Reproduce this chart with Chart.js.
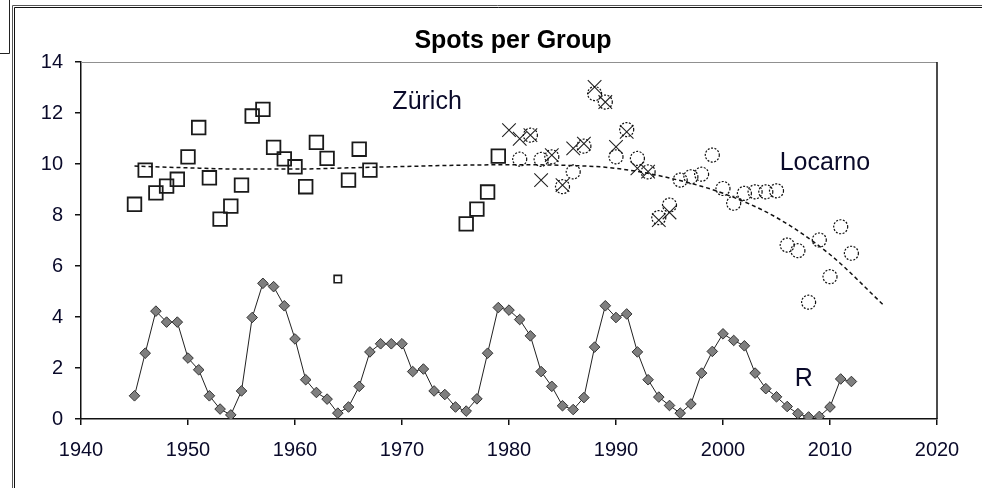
<!DOCTYPE html>
<html><head><meta charset="utf-8">
<script src="https://cdn.jsdelivr.net/npm/chart.js@4.4.0/dist/chart.umd.min.js"></script>
<style>html,body{margin:0;padding:0;background:#fff;overflow:hidden}#wrap{width:982px;height:488px;position:relative}</style>
</head><body><div id="wrap"><canvas id="c" width="982" height="488"></canvas></div>
<script>
// ---- data ----
const xTicks = [1940,1950,1960,1970,1980,1990,2000,2010,2020];
const yTicks = [0,2,4,6,8,10,12,14];

const rYears = [1945,1946,1947,1948,1949,1950,1951,1952,1953,1954,1955,1956,1957,1958,1959,1960,1961,1962,1963,1964,1965,1966,1967,1968,1969,1970,1971,1972,1973,1974,1975,1976,1977,1978,1979,1980,1981,1982,1983,1984,1985,1986,1987,1988,1989,1990,1991,1992,1993,1994,1995,1996,1997,1998,1999,2000,2001,2002,2003,2004,2005,2006,2007,2008,2009,2010,2011,2012];
const rValues = [0.91,2.58,4.23,3.80,3.80,2.39,1.93,0.91,0.39,0.16,1.10,3.98,5.32,5.19,4.44,3.14,1.54,1.04,0.78,0.23,0.47,1.28,2.63,2.95,2.95,2.95,1.86,1.96,1.10,0.96,0.47,0.31,0.79,2.58,4.37,4.27,3.90,3.26,1.86,1.28,0.52,0.37,0.84,2.82,4.44,3.98,4.12,2.63,1.54,0.86,0.53,0.23,0.59,1.80,2.65,3.34,3.08,2.87,1.80,1.19,0.87,0.49,0.21,0.08,0.10,0.47,1.57,1.47];

const zurichYears  = [1945,1946,1947,1948,1949,1950,1951,1952,1953,1954,1955,1956,1957,1958,1959,1960,1961,1962,1963,1965,1966,1967,1976,1977,1978,1979];
const zurichValues = [8.42,9.76,8.87,9.13,9.40,10.28,11.43,9.46,7.84,8.35,9.17,11.88,12.14,10.65,10.20,9.89,9.11,10.85,10.22,9.37,10.58,9.76,7.65,8.23,8.90,10.31];

const zurichSmallYears  = [1964];
const zurichSmallValues = [5.49];

const crossYears  = [1980,1981,1982,1983,1984,1985,1986,1987,1988,1989,1990,1991,1992,1993,1994,1995];
const crossValues = [11.33,10.99,11.13,9.37,10.35,9.17,10.61,10.80,13.02,12.43,10.67,11.26,9.83,9.70,7.80,8.10];

const locarnoYears  = [1981,1982,1983,1984,1985,1986,1987,1988,1989,1990,1991,1992,1993,1994,1995,1996,1997,1998,1999,2000,2001,2002,2003,2004,2005,2006,2007,2008,2009,2010,2011,2012];
const locarnoValues = [10.19,11.13,10.18,10.28,9.11,9.69,10.70,12.76,12.43,10.28,11.35,10.22,9.69,7.90,8.39,9.37,9.50,9.60,10.35,9.04,8.46,8.85,8.91,8.91,8.95,6.82,6.60,4.58,7.02,5.58,7.54,6.50];

const trendYears  = [1945,1950,1955,1960,1965,1970,1975,1980,1985,1990,1995,2000,2005,2010,2015];
const trendValues = [9.92,9.85,9.80,9.80,9.85,9.90,9.95,9.97,9.95,9.83,9.45,8.85,7.90,6.45,4.47];

const titleText = 'Spots per Group';
const labels = [
  {text:'Zürich',  x:1969.1, y:12.14},
  {text:'Locarno', x:2005.3, y:9.76},
  {text:'R',       x:2006.7, y:1.28}
];

const pts = (xs, ys) => xs.map((x, i) => ({x, y: ys[i]}));

const deco = {
  id: 'deco',
  beforeDraw(chart) {
    const c = chart.ctx;
    c.save();
    c.fillStyle = '#fff';
    c.fillRect(0, 0, chart.width, chart.height);
    c.strokeStyle = '#222';
    c.lineWidth = 1;
    c.beginPath();
    c.moveTo(9.5, 0); c.lineTo(9.5, 53.5); c.lineTo(0, 53.5);
    c.stroke();
    c.strokeStyle = '#555';
    c.beginPath();
    c.moveTo(12.5, 488); c.lineTo(12.5, 5.5); c.lineTo(982, 5.5);
    c.stroke();
    c.strokeStyle = '#111';
    c.beginPath();
    c.moveTo(14.5, 488); c.lineTo(14.5, 7.5); c.lineTo(982, 7.5);
    c.stroke();
    c.restore();
  },
  beforeDatasetDraw(chart, args) {
    if (chart.data.datasets[args.index].dashedMarker) {
      chart.ctx.setLineDash([2, 1.5]);
    }
  },
  afterDatasetDraw(chart, args) {
    chart.ctx.setLineDash([]);
  },
  afterDraw(chart) {
    const c = chart.ctx, a = chart.chartArea;
    const xs = chart.scales.x, ys = chart.scales.y;
    c.save();
    c.lineWidth = 1;
    c.strokeStyle = '#909090';
    c.beginPath();
    c.moveTo(a.left, Math.round(a.top) + 0.5);
    c.lineTo(a.right, Math.round(a.top) + 0.5);
    c.stroke();
    c.strokeStyle = '#111';
    c.lineWidth = 1.5;
    c.beginPath();
    c.moveTo(a.right, a.top);
    c.lineTo(a.right, a.bottom);
    c.stroke();
    c.fillStyle = '#000';
    c.textBaseline = 'alphabetic';
    c.textAlign = 'center';
    c.font = 'bold 25px "Liberation Sans", Arial, sans-serif';
    c.fillText(titleText, 513, 48);
    c.textAlign = 'left';
    c.font = '25px "Liberation Sans", Arial, sans-serif';
    c.fillStyle = '#0a0a2a';
    labels.forEach(l => c.fillText(l.text, xs.getPixelForValue(l.x), ys.getPixelForValue(l.y)));
    c.restore();
  }
};

new Chart(document.getElementById('c'), {
  type: 'scatter',
  data: {
    datasets: [
      {
        label: 'Trend', data: pts(trendYears, trendValues), showLine: true,
        borderColor: '#111', borderWidth: 1.5, borderDash: [4, 3], pointRadius: 0,
        cubicInterpolationMode: 'monotone', fill: false
      },
      {
        label: 'R', data: pts(rYears, rValues), showLine: true,
        borderColor: '#222', borderWidth: 1, pointStyle: 'rectRot', pointRadius: 5.3,
        pointBackgroundColor: '#7f7f7f', pointBorderColor: '#333', pointBorderWidth: 1
      },
      {
        label: 'Zürich', data: pts(zurichYears, zurichValues),
        pointStyle: 'rect', pointRadius: 9.6, pointBackgroundColor: 'rgba(0,0,0,0)',
        pointBorderColor: '#1a1a1a', pointBorderWidth: 1.8
      },
      {
        label: 'Zürich small', data: pts(zurichSmallYears, zurichSmallValues),
        pointStyle: 'rect', pointRadius: 5.2, pointBackgroundColor: 'rgba(0,0,0,0)',
        pointBorderColor: '#1a1a1a', pointBorderWidth: 1.6
      },
      {
        label: 'Locarno', data: pts(locarnoYears, locarnoValues), dashedMarker: true,
        pointStyle: 'circle', pointRadius: 7, pointBackgroundColor: 'rgba(0,0,0,0)',
        pointBorderColor: '#111', pointBorderWidth: 1.2
      },
      {
        label: 'Zürich X', data: pts(crossYears, crossValues),
        pointStyle: 'crossRot', pointRadius: 9.6, pointBorderColor: '#222', pointBorderWidth: 1.1
      }
    ]
  },
  options: {
    responsive: false, animation: false, devicePixelRatio: 1,
    layout: { padding: { left: 0, right: 45, top: 62, bottom: 0 } },
    plugins: { legend: { display: false }, tooltip: { enabled: false }, title: { display: false } },
    scales: {
      x: {
        type: 'linear', min: 1940, max: 2020,
        afterBuildTicks: s => { s.ticks = xTicks.map(v => ({value: v})); },
        afterFit: s => { s.height = 69; },
        grid: { drawOnChartArea: false, drawTicks: true, tickLength: 6, color: '#111', lineWidth: 1.5 },
        border: { color: '#111', width: 1.5 },
        ticks: { color: '#0a0a2a', font: { family: '"Liberation Sans", Arial, sans-serif', size: 20 }, padding: 13, maxRotation: 0, autoSkip: false, callback: v => String(v) }
      },
      y: {
        type: 'linear', min: 0, max: 14,
        afterBuildTicks: s => { s.ticks = yTicks.map(v => ({value: v})); },
        afterFit: s => { s.width = 81; },
        grid: { drawOnChartArea: false, drawTicks: true, tickLength: 6, color: '#111', lineWidth: 1.5 },
        border: { color: '#111', width: 1.5 },
        ticks: { color: '#0a0a2a', font: { family: '"Liberation Sans", Arial, sans-serif', size: 20 }, padding: 12, callback: v => String(v) }
      }
    }
  },
  plugins: [deco]
});
</script>
</body></html>
